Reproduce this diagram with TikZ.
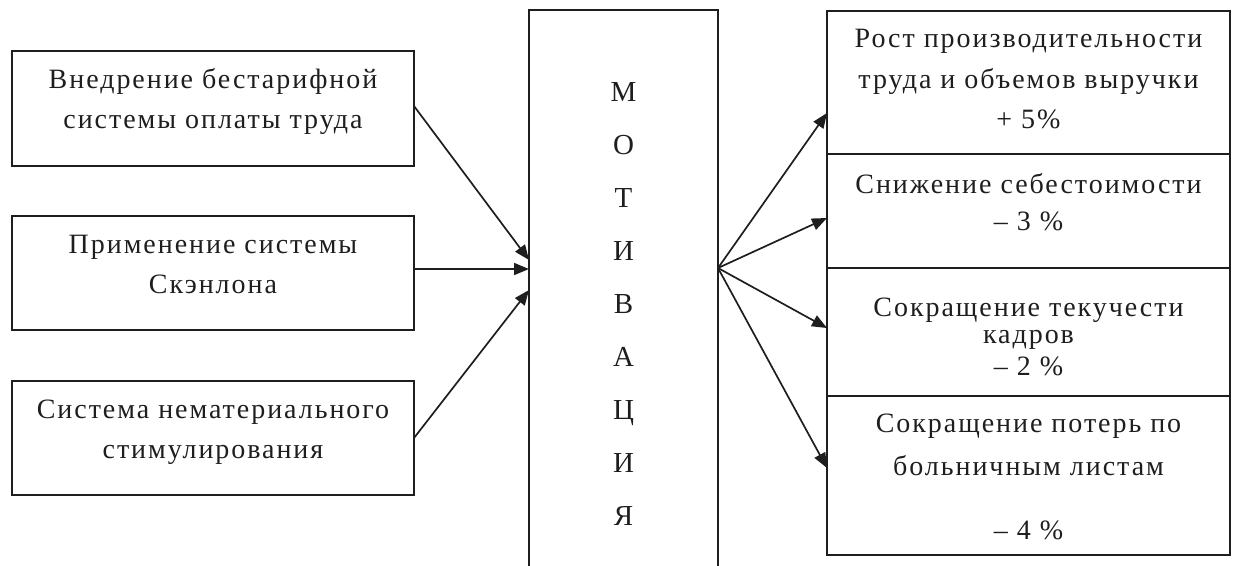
\documentclass[tikz,border=0pt]{standalone}
\usepackage{fontspec}
\setmainfont{Liberation Serif}[LetterSpace=7]
\usetikzlibrary{arrows.meta}
\definecolor{linec}{HTML}{1E1E1E}
\definecolor{textc}{HTML}{1E1E1E}
\begin{document}
\begin{tikzpicture}[x=1pt,y=-1pt,
  box/.style={draw=linec, line width=1.8pt, inner sep=0pt, outer sep=0pt, anchor=north west},
  txt/.style={anchor=base, align=center, inner sep=0pt, text=textc, font=\fontsize{28}{40}\selectfont},
  arr/.style={draw=linec, line width=1.7pt, -{Triangle[length=15pt,width=12pt]}}]
\useasboundingbox (0,0) rectangle (1233,565);
\clip (0,0) rectangle (1233,565);
% left boxes
\node[box, minimum width=402pt, minimum height=115pt] (l1) at (12,51) {};
\node[box, minimum width=402pt, minimum height=114pt] (l2) at (12,216) {};
\node[box, minimum width=402pt, minimum height=114pt] (l3) at (12,381) {};
% centre box
\node[box, minimum width=189pt, minimum height=580pt] (m) at (529,10) {};
% right boxes
\node[box, minimum width=403pt, minimum height=143pt] (r1) at (827,11) {};
\node[box, minimum width=403pt, minimum height=114pt] (r2) at (827,154) {};
\node[box, minimum width=403pt, minimum height=128pt] (r3) at (827,268) {};
\node[box, minimum width=403pt, minimum height=159pt] (r4) at (827,396) {};
% texts (anchor = baseline of the last line)
\node[txt] (l1t) at (213,128) {Внедрение бестарифной\\системы оплаты труда};
\node[txt] (l2t) at (213,293) {Применение системы\\Скэнлона};
\node[txt] (l3t) at (213,458) {Система нематериального\\стимулирования};
\node[txt, font=\fontsize{29}{52.9}\selectfont] (mt) at (623.5,525) {М\\О\\Т\\И\\В\\А\\Ц\\И\\Я};
\node[txt] (r1t) at (1028.5,128) {Рост производительности\\[1pt]труда и объемов выручки\\+ 5\%};
\node[txt] (r2t) at (1028.5,230) {Снижение себестоимости\\[-3pt]– 3 \%};
\node[txt] (r3t) at (1028.5,375) {Сокращение текучести\\[-13pt]кадров\\[-8pt]– 2 \%};
\node[txt] (r4t) at (1028.5,539) {Сокращение потерь по\\[3pt]больничным листам\\[24pt]– 4 \%};
% connectors
\draw[arr] ([yshift=2.5pt]l1.east) -- ([yshift=40pt]m.west);
\draw[arr] ([yshift=4pt]l2.east) -- ([yshift=31pt]m.west);
\draw[arr] (l3.east) -- ([yshift=10pt]m.west);
\draw[arr] ([yshift=32pt]m.east) -- ([yshift=-30.5pt]r1.west);
\draw[arr] ([yshift=32pt]m.east) -- ([yshift=-7pt]r2.west);
\draw[arr] ([yshift=32pt]m.east) -- ([yshift=4pt]r3.west);
\draw[arr] ([yshift=32pt]m.east) -- ([yshift=7.5pt]r4.west);
\end{tikzpicture}
\end{document}
